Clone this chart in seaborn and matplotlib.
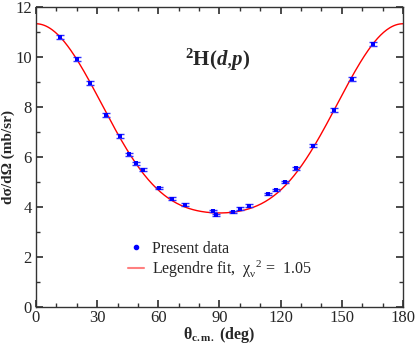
import numpy as np
import pandas as pd
import matplotlib
matplotlib.use("Agg")
import matplotlib.pyplot as plt
import seaborn as sns
from matplotlib.ticker import MultipleLocator
from matplotlib.lines import Line2D

# ---- data ----
theta = [11.8, 19.9, 26.6, 34.5, 41.2, 45.8, 49.2, 52.5, 60.5, 66.7, 73.2,
         86.6, 88.3, 96.8, 100.0, 104.6, 113.9, 117.7, 122.1, 127.5,
         136.0, 146.2, 154.8, 165.3]
xsec = [10.82, 9.92, 8.97, 7.68, 6.84, 6.12, 5.76, 5.49, 4.76, 4.34, 4.10,
        3.85, 3.68, 3.81, 3.94, 4.06, 4.53, 4.69, 5.01, 5.56,
        6.45, 7.88, 9.12, 10.54]
xsec_err = [0.08, 0.08, 0.08, 0.07, 0.07, 0.06, 0.06, 0.06, 0.05, 0.05, 0.05,
            0.05, 0.05, 0.05, 0.05, 0.05, 0.05, 0.05, 0.05, 0.06,
            0.06, 0.07, 0.08, 0.08]
# Legendre coefficients (in cos theta) of the fit: a0..a4
legendre_coef = [5.596, 0.0, 4.545, 0.0, 1.189]
chi2_label = "1.05"

sns.set_theme(style="ticks")
plt.rcParams["font.family"] = ["Liberation Serif", "DejaVu Serif"]
plt.rcParams["mathtext.fontset"] = "custom"
plt.rcParams["mathtext.rm"] = "Liberation Serif"
plt.rcParams["mathtext.it"] = "Liberation Serif:italic"
plt.rcParams["mathtext.bf"] = "Liberation Serif:bold"
plt.rcParams["mathtext.bfit"] = "Liberation Serif:bold:italic"

fig = plt.figure(figsize=(4.15, 3.44), dpi=100)
ax = fig.add_axes([0.0867, 0.1067, 0.8843, 0.873])

tfit = np.linspace(0, 180, 361)
yfit = np.polynomial.legendre.legval(np.cos(np.radians(tfit)), legendre_coef)
fit_df = pd.DataFrame({"theta": tfit, "y": yfit})
data_df = pd.DataFrame({"theta": theta, "y": xsec, "err": xsec_err})

sns.lineplot(data=fit_df, x="theta", y="y", ax=ax, color="#ff0000", lw=1.0,
             zorder=2, legend=False)
ax.errorbar(data_df["theta"], data_df["y"], yerr=data_df["err"], fmt="none",
            ecolor="#3030ff", elinewidth=1.0, capsize=3, capthick=1.0, zorder=3)
sns.scatterplot(data=data_df, x="theta", y="y", ax=ax, color="#0000ff",
                marker="s", s=10, edgecolor="#0000ff", linewidth=0,
                zorder=4, legend=False)

ax.set_xlim(0, 180)
ax.set_ylim(0, 12)
ax.xaxis.set_major_locator(MultipleLocator(30))
ax.xaxis.set_minor_locator(MultipleLocator(10))
ax.yaxis.set_major_locator(MultipleLocator(2))
ax.yaxis.set_minor_locator(MultipleLocator(1))
ax.tick_params(which="both", direction="in", top=True, right=True,
               labelsize=12, color="#333333")
ax.tick_params(axis="x", which="both", pad=2)
ax.tick_params(axis="y", which="both", pad=3)
ax.tick_params(which="major", length=5)
ax.tick_params(which="minor", length=3)
for sp in ax.spines.values():
    sp.set_color("#333333")
    sp.set_linewidth(1.0)

ax.set_xlabel(r"$\mathbf{\theta}_{\mathbf{c.m.}}$ (deg)", fontsize=11.5,
              fontweight="bold", labelpad=-1)
ax.set_ylabel("dσ/dΩ (mb/sr)", fontsize=11, fontweight="bold", labelpad=0)

ax.text(73, 9.65, r"$^{\mathbf{2}}\mathbf{H(}\mathbfit{d}{,}\mathbfit{p}\mathbf{)}$",
        fontsize=15, ha="left", va="baseline")

h_data = Line2D([], [], marker="o", ls="none", color="#0000ff", markersize=3)
h_fit = Line2D([], [], color="#ff8080", lw=1.5)
ax.legend([h_data, h_fit],
          ["Present data",
           r"Legendre fit,  $\mathrm{\chi}_{\mathrm{\nu}}^{\ \ 2}$ =  " + chi2_label],
          loc="lower left", bbox_to_anchor=(0.23, 0.065),
          frameon=False, fontsize=11.5, handlelength=1.0,
          handletextpad=0.5, labelspacing=0.1, borderpad=0)

fig.savefig("out.png", dpi=100)
